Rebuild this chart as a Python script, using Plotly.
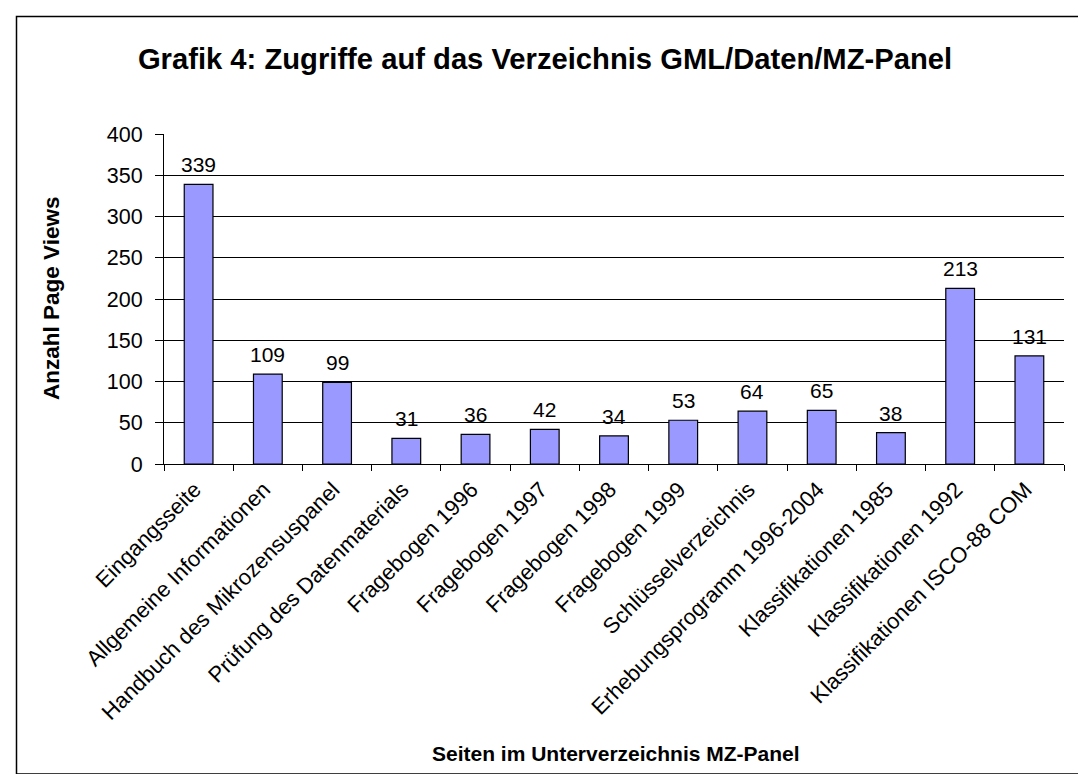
import plotly.graph_objects as go

categories = [
    "Eingangsseite",
    "Allgemeine Informationen",
    "Handbuch des Mikrozensuspanel",
    "Prüfung des Datenmaterials",
    "Fragebogen 1996",
    "Fragebogen 1997",
    "Fragebogen 1998",
    "Fragebogen 1999",
    "Schlüsselverzeichnis",
    "Erhebungsprogramm 1996-2004",
    "Klassifikationen 1985",
    "Klassifikationen 1992",
    "Klassifikationen ISCO-88 COM",
]
page_views = [339, 109, 99, 31, 36, 42, 34, 53, 64, 65, 38, 213, 131]
y_ticks = [0, 50, 100, 150, 200, 250, 300, 350, 400]

FONT = "Liberation Sans, Arial, sans-serif"

W, H = 1086, 774
L, T = 156, 126
RIGHT_EDGE, ZERO_Y = 1056, 456
R, B = W - RIGHT_EDGE, H - ZERO_Y
pw = W - L - R
ph = H - T - B


def px_x(p):
    return (p - L) / pw


def px_y(p):
    return (ZERO_Y - p) / ph


fig = go.Figure(
    go.Bar(
        x=categories,
        y=page_views,
        marker=dict(color="#9999FF", line=dict(color="black", width=1.2)),
        width=0.415,
        hoverinfo="x+y",
    )
)

# value labels above the bars
for c, v in zip(categories, page_views):
    fig.add_annotation(
        x=c, y=v, xref="x", yref="y", text=str(v), showarrow=False,
        yanchor="bottom", xanchor="center", yshift=6,
        font=dict(family=FONT, size=21, color="black"),
    )

# outer chart frame
fig.add_shape(
    type="rect", xref="paper", yref="paper",
    x0=px_x(8.5), x1=px_x(1077.5),
    y0=px_y(766), y1=px_y(8.5),
    line=dict(color="black", width=1.5), fillcolor="rgba(0,0,0,0)", layer="below",
)

# axis titles
fig.add_annotation(
    text="<b>Seiten im Unterverzeichnis MZ-Panel</b>",
    xref="paper", yref="paper",
    x=px_x(608), y=px_y(745),
    xanchor="center", yanchor="middle", showarrow=False,
    font=dict(family=FONT, size=21, color="black"),
)
fig.add_annotation(
    text="<b>Anzahl Page Views</b>",
    xref="paper", yref="paper",
    x=px_x(43), y=px_y(291),
    xanchor="center", yanchor="middle", showarrow=False, textangle=-90,
    font=dict(family=FONT, size=22.5, color="black"),
)

fig.update_layout(
    width=W, height=H,
    margin=dict(l=L, r=R, t=T, b=B, pad=0),
    paper_bgcolor="white", plot_bgcolor="white",
    showlegend=False,
    font=dict(family=FONT, color="black"),
    title=dict(
        text="<b>Grafik 4: Zugriffe auf das Verzeichnis GML/Daten/MZ-Panel</b>",
        font=dict(family=FONT, size=29.2, color="black"),
        xref="container", yref="container",
        x=537 / W, xanchor="center",
        y=1 - 51 / H, yanchor="middle",
    ),
    xaxis=dict(
        tickangle=-45,
        tickfont=dict(family=FONT, size=22, color="black"),
        showline=True, linecolor="black", linewidth=1,
        ticks="outside", tickson="boundaries", ticklen=6, tickcolor="black",
        ticklabelshift=-4, ticklabelstandoff=3,
        showgrid=False,
        automargin=False,
    ),
    yaxis=dict(
        range=[0, 400],
        tickvals=y_ticks,
        tickfont=dict(family=FONT, size=21.5, color="black"),
        showline=True, linecolor="black", linewidth=1,
        ticks="outside", ticklen=8, tickcolor="black",
        ticklabelstandoff=8,
        showgrid=True, gridcolor="black", gridwidth=1,
        zeroline=False,
        automargin=False,
    ),
)

fig.write_html("out.html")
